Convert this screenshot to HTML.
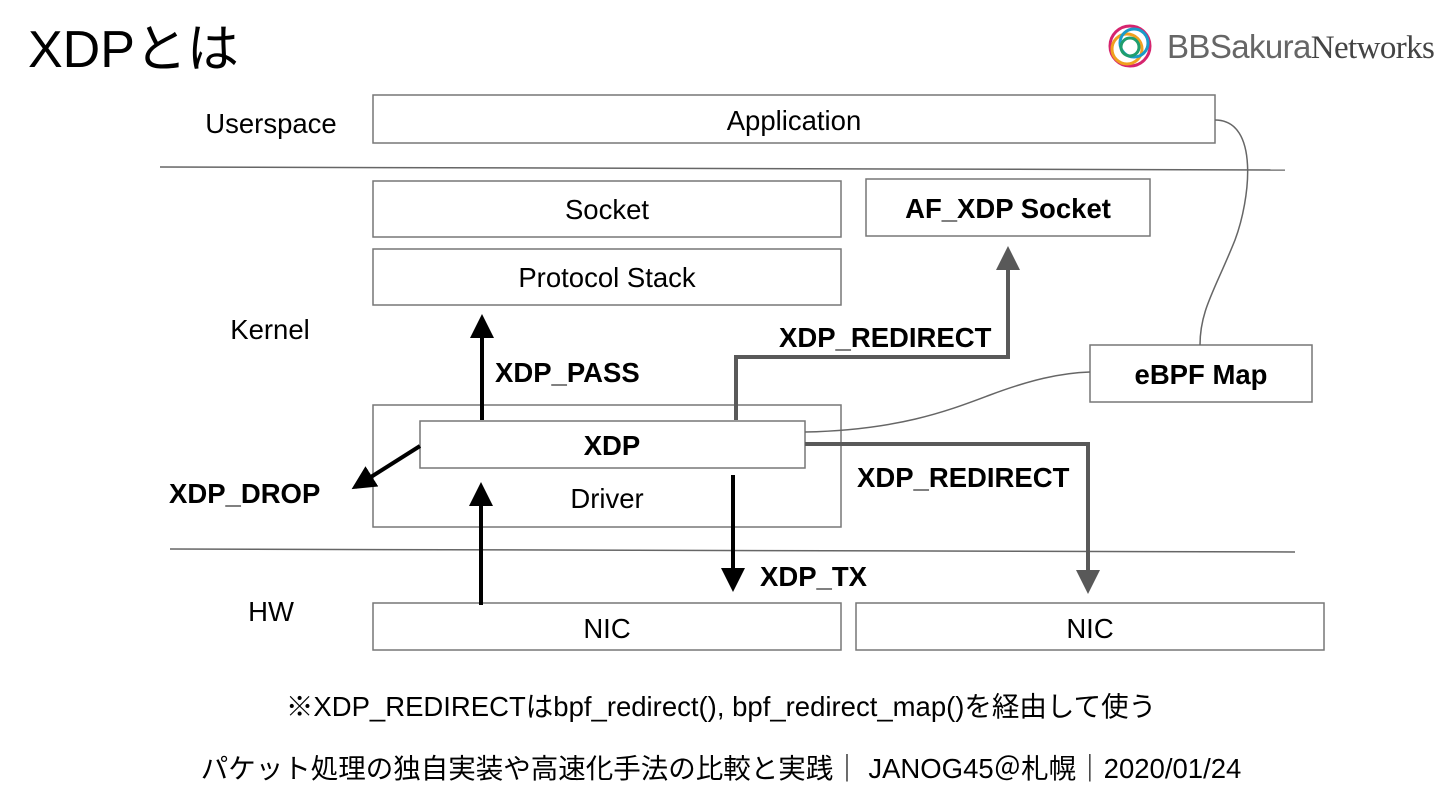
<!DOCTYPE html>
<html><head><meta charset="utf-8"><style>
body{margin:0;background:#fff;}
svg{display:block;font-family:"Liberation Sans","Noto Sans CJK JP",sans-serif;}
</style></head><body>
<svg width="1440" height="810" viewBox="0 0 1440 810" xmlns="http://www.w3.org/2000/svg">
<defs>
<marker id="ab" markerWidth="6" markerHeight="6" refX="5" refY="3" orient="auto" markerUnits="strokeWidth"><path d="M0,0 L6,3 L0,6 z" fill="#000"/></marker>
<marker id="ag" markerWidth="6" markerHeight="6" refX="5" refY="3" orient="auto" markerUnits="strokeWidth"><path d="M0,0 L6,3 L0,6 z" fill="#595959"/></marker>
</defs>
<text x="28" y="67" font-size="52" fill="#000">XDPとは</text>
<g fill="none" stroke-width="3">
<circle cx="1130" cy="46" r="20" stroke="#d6246e"/>
<circle cx="1127" cy="49" r="15" stroke="#f0a020"/>
<circle cx="1134" cy="43" r="14" stroke="#1a9bc9"/>
<circle cx="1130" cy="47" r="9" stroke="#1f9e6e"/>
</g>
<text x="1167" y="58" font-size="33" fill="#666" font-family="Liberation Sans, sans-serif" letter-spacing="-0.6">BBSakura<tspan fill="#444" font-family="Liberation Serif, serif">Networks</tspan></text>

<g fill="#fff" stroke="#777" stroke-width="1.5">
<rect x="373" y="95" width="842" height="48"/>
<rect x="373" y="181" width="468" height="56"/>
<rect x="373" y="249" width="468" height="56"/>
<rect x="866" y="179" width="284" height="57"/>
<rect x="1090" y="345" width="222" height="57"/>
<rect x="373" y="405" width="468" height="122"/>
<rect x="420" y="421" width="385" height="47"/>
<rect x="373" y="603" width="468" height="47"/>
<rect x="856" y="603" width="468" height="47"/>
</g>
<g stroke="#666" stroke-width="1.5" fill="none">
<line x1="160" y1="167" x2="1285" y2="170"/>
<line x1="170" y1="549" x2="1295" y2="552"/>
<path d="M1215,120 C1260,120 1250,200 1235,240 C1215,290 1200,310 1200,345"/>
<path d="M805,432 C900,430 950,410 990,395 C1030,380 1060,373 1090,372"/>
</g>
<g stroke="#000" stroke-width="4" fill="none">
<line x1="482" y1="420" x2="482" y2="318" marker-end="url(#ab)"/>
<line x1="420" y1="446" x2="355" y2="487" marker-end="url(#ab)"/>
<line x1="481" y1="605" x2="481" y2="486" marker-end="url(#ab)"/>
<line x1="733" y1="475" x2="733" y2="588" marker-end="url(#ab)"/>
</g>
<g stroke="#595959" stroke-width="4" fill="none">
<polyline points="736,420 736,357 1008,357 1008,250" marker-end="url(#ag)"/>
<polyline points="805,444 1088,444 1088,590" marker-end="url(#ag)"/>
</g>
<g font-size="27.5" fill="#000" text-anchor="middle">
<text x="794" y="130">Application</text>
<text x="607" y="219">Socket</text>
<text x="607" y="287">Protocol Stack</text>
<text x="607" y="508">Driver</text>
<text x="607" y="638">NIC</text>
<text x="1090" y="638">NIC</text>
<text x="271" y="133">Userspace</text>
<text x="270" y="339">Kernel</text>
<text x="271" y="621">HW</text>
</g>
<g font-size="27.5" font-weight="bold" fill="#000">
<text x="1008" y="218" text-anchor="middle">AF_XDP Socket</text>
<text x="1201" y="384" text-anchor="middle">eBPF Map</text>
<text x="612" y="455" text-anchor="middle">XDP</text>
<text x="495" y="382">XDP_PASS</text>
<text x="169" y="503">XDP_DROP</text>
<text x="779" y="347">XDP_REDIRECT</text>
<text x="857" y="487">XDP_REDIRECT</text>
<text x="760" y="586">XDP_TX</text>
</g>
<text x="721" y="716" font-size="27.5" text-anchor="middle" fill="#000">※XDP_REDIRECTはbpf_redirect(), bpf_redirect_map()を経由して使う</text>
<text x="721" y="778" font-size="27.5" text-anchor="middle" fill="#000">パケット処理の独自実装や高速化手法の比較と実践｜ JANOG45＠札幌｜2020/01/24</text>
</svg>
</body></html>
